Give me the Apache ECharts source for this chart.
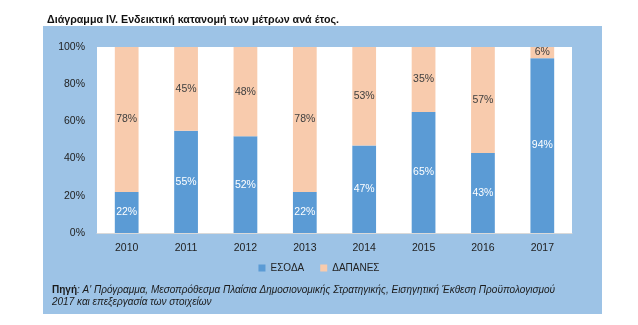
<!DOCTYPE html>
<html><head><meta charset="utf-8">
<script src="https://cdn.jsdelivr.net/npm/echarts@6/dist/echarts.min.js"></script>
<style>html,body{margin:0;padding:0;background:#fff}#c{width:638px;height:325px}</style>
</head><body><div id="c"></div>
<script>
var years = ['2010','2011','2012','2013','2014','2015','2016','2017'];
var esoda = [22,55,52,22,47,65,43,94];
var dapanes = [78,45,48,78,53,35,57,6];
var yTicks = [0,20,40,60,80,100];
var seriesNames = ['ΕΣΟΔΑ','ΔΑΠΑΝΕΣ'];
var titleText = 'Διάγραμμα IV. Ενδεικτική κατανομή των μέτρων ανά έτος.';
var sourceBold = 'Πηγή';
var sourceLine1 = ': Α\' Πρόγραμμα, Μεσοπρόθεσμα Πλαίσια Δημοσιονομικής Στρατηγικής, Εισηγητική Έκθεση Προϋπολογισμού';
var sourceLine2 = '2017 και επεξεργασία των στοιχείων';

var font = 'Liberation Sans';
var chart = echarts.init(document.getElementById('c'));
chart.setOption({
  backgroundColor: '#ffffff',
  animation: false,
  textStyle: {fontFamily: font},
  graphic: [
    {type: 'rect', z: -10, silent: true, shape: {x: 43, y: 26, width: 559, height: 288}, style: {fill: '#9DC3E6'}},
    {type: 'text', left: 52, top: 285, z: 10, style: {
      rich: {
        b: {fontWeight: 'bold', fontSize: 10, fontFamily: font, fill: '#1a1a1a', lineHeight: 12},
        i: {fontStyle: 'italic', fontSize: 10, fontFamily: font, fill: '#1a1a1a', lineHeight: 12}
      },
      text: '{b|' + sourceBold + '}{i|' + sourceLine1 + '}\n{i|' + sourceLine2 + '}'
    }}
  ],
  title: {
    text: titleText, left: 42, top: 10,
    textStyle: {fontSize: 10.7, fontWeight: 'bold', color: '#111', fontFamily: font}
  },
  legend: {
    data: seriesNames, left: 'center', top: 258,
    itemWidth: 7, itemHeight: 7, itemGap: 16, icon: 'rect',
    textStyle: {fontSize: 10, color: '#222', fontFamily: font}
  },
  grid: {left: 97, right: 66, top: 47, bottom: 92, show: true, backgroundColor: '#ffffff', borderWidth: 0},
  xAxis: {
    type: 'category', data: years,
    axisLine: {lineStyle: {color: '#d9d9d9'}},
    axisTick: {show: false},
    axisLabel: {color: '#222', fontSize: 10.5, margin: 10}
  },
  yAxis: {
    type: 'value', min: 0, max: 100, interval: 20,
    axisLine: {show: false}, axisTick: {show: false},
    splitLine: {show: false},
    axisLabel: {color: '#222', fontSize: 10.5, margin: 12, formatter: function(v){ return yTicks.indexOf(v) >= 0 ? v + '%' : ''; }}
  },
  series: [
    {name: seriesNames[0], type: 'bar', stack: 's', data: esoda, barWidth: '40%',
     itemStyle: {color: '#5B9BD5'},
     label: {show: true, position: 'inside', formatter: '{c}%', color: '#ffffff', fontSize: 10.5}},
    {name: seriesNames[1], type: 'bar', stack: 's', data: dapanes, barWidth: '40%',
     itemStyle: {color: '#F8CBAD'},
     label: {show: true, position: 'inside', formatter: '{c}%', color: '#404040', fontSize: 10.5}}
  ]
});
</script></body></html>
